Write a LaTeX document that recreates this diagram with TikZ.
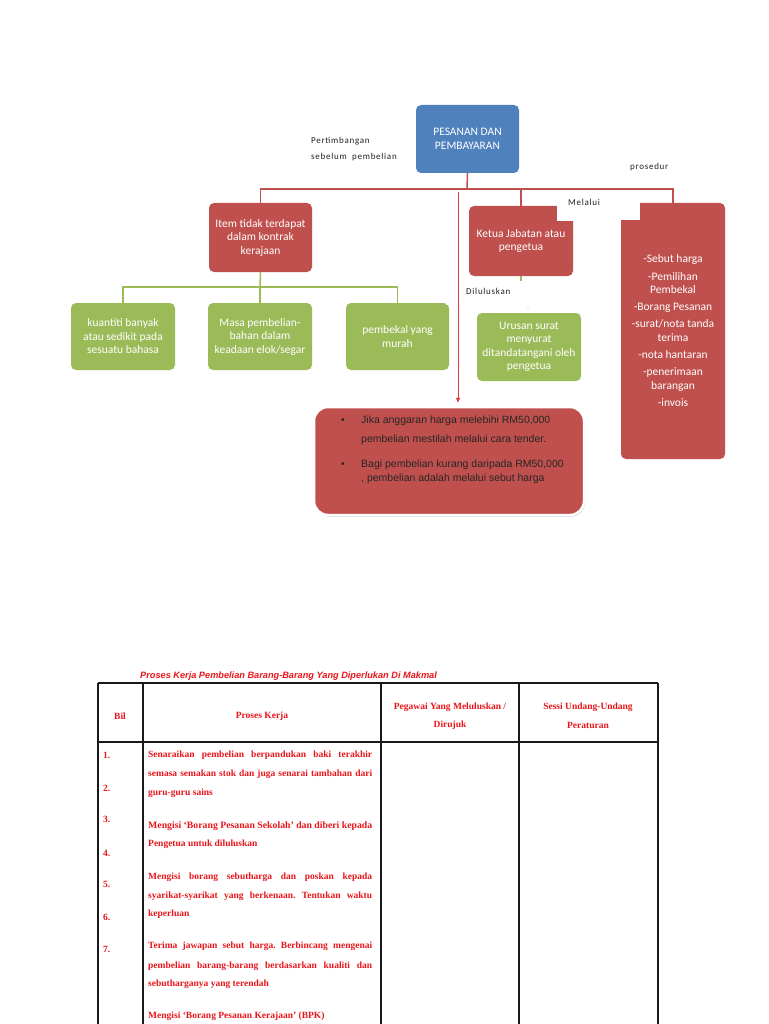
\documentclass[tikz,border=0pt]{standalone}
\usepackage{fontspec}
\setmainfont{Carlito}
\newfontfamily\arialf{Liberation Sans}
\newfontfamily\tnrf{Liberation Serif}
\newfontfamily\lblf[LetterSpace=8]{Carlito}
\usetikzlibrary{arrows.meta,shadows}
\definecolor{cblue}{HTML}{4F81BD}
\definecolor{cred}{HTML}{C0504D}
\definecolor{cgreen}{HTML}{9BBB59}
\definecolor{tred}{HTML}{E8151B}
\definecolor{arrred}{HTML}{E0393E}
\definecolor{lbl}{HTML}{222222}
\frenchspacing
\begin{document}
\begin{tikzpicture}[x=1pt,y=-1pt,
  box/.style={rectangle, rounded corners=5pt, inner sep=0pt, align=center, text=white,
    font=\fontsize{11.5}{13.5}\selectfont, minimum width=104pt, minimum height=68pt},
  bluebox/.style={box, fill=cblue},
  redbox/.style={box, fill=cred},
  greenbox/.style={box, fill=cgreen},
  redline/.style={draw=cred, line width=1.5pt},
  greenline/.style={draw=cgreen, line width=1.5pt},
  arrline/.style={draw=arrred, line width=0.9pt, -{Triangle[length=5pt,width=4pt]}},
  lbltext/.style={anchor=west, inner sep=0pt, text=lbl, font=\lblf\fontsize{9}{10}\selectfont},
  notetext/.style={anchor=west, inner sep=0pt, text=black!85, font=\arialf\fontsize{10.5}{12}\selectfont},
  tline/.style={draw=black!90, line width=1.2pt},
  thead/.style={inner sep=0pt, text=tred, font=\tnrf\bfseries\fontsize{9.5}{11}\selectfont},
  tbody/.style={anchor=west, inner sep=0pt, text=tred, font=\tnrf\bfseries\fontsize{9.5}{11}\selectfont},
]
\useasboundingbox (0,0) rectangle (768,1024);
\fill[white] (0,0) rectangle (768,1024);

% ---------- boxes ----------
\node[bluebox, minimum width=103pt] (blue) at (467.5,139) {PESANAN DAN\\PEMBAYARAN};
\node[redbox, minimum width=103pt, minimum height=69pt] (item) at (260.5,237.5) {Item tidak terdapat\\dalam kontrak\\kerajaan};
\node[greenbox, minimum height=67pt] (g1) at (123,336.5) {kuantiti banyak\\atau sedikit pada\\sesuatu bahasa};
\node[greenbox, minimum height=67pt] (g2) at (260,336.5) {Masa pembelian-\\bahan dalam\\keadaan elok/segar};
\node[greenbox, minimum width=103pt, minimum height=67pt] (g3) at (397.5,336.5) {pembekal yang\\murah};
\fill[white] (446,301.5) rectangle (450,305);
\node[redbox, minimum height=70pt] (ketua) at (521,241) {Ketua Jabatan atau\\pengetua};
\fill[white] (557,204) rectangle (575,221);
\node[greenbox] (urusan) at (529,347) {Urusan surat\\menyurat\\ditandatangani oleh\\pengetua};
\node[redbox, minimum height=256pt] (right) at (673,331) {-Sebut harga\\[4pt]-Pemilihan\\Pembekal\\[3.5pt]-Borang Pesanan\\[3.5pt]-surat/nota tanda\\terima\\[4pt]-nota hantaran\\[3.5pt]-penerimaan\\barangan\\[4pt]-invois};
\fill[white] (619,201) rectangle (640,220);

\node[rectangle, rounded corners=14pt, fill=cred, draw=white, line width=2.5pt,
  minimum width=270pt, minimum height=108pt,
  drop shadow={shadow xshift=1pt, shadow yshift=-1.5pt, opacity=0.45}] (tender) at (449,461) {};
\node[notetext] (b1) at (341,421) {\textbullet};
\node[notetext] (t1) at (361,421) {Jika anggaran harga melebihi RM50,000};
\node[notetext] (t2) at (361,440) {pembelian mestilah melalui cara tender.};
\node[notetext] (b2) at (341,465) {\textbullet};
\node[notetext] (t3) at (361,465) {Bagi pembelian kurang daripada RM50,000};
\node[notetext] (t4) at (361,479) {, pembelian adalah melalui sebut harga};

% ---------- labels ----------
\node[lbltext] (l1) at (311,141) {Pertimbangan};
\node[lbltext] (l2) at (311,157) {sebelum\ \ pembelian};
\node[lbltext] (l3) at (630,167) {prosedur};
\node[lbltext] (l4) at (568,202) {Melalui};
\node[lbltext] (l5) at (466,291) {Diluluskan};

% ---------- connectors ----------
\coordinate (hm) at (467,189);
\coordinate (hr) at (673,189);
\draw[redline] (blue.south) -- (hm);
\draw[redline] (item.north) |- (hr) -- (right.north);
\draw[redline] (ketua.north |- hm) -- (ketua.north);
\coordinate (arrtop) at (458,192);
\draw[arrline, shorten >=3pt] (arrtop) -- (tender.north -| arrtop);
\coordinate (gm) at (260,287);
\draw[greenline] (item.south) -- (gm);
\draw[greenline] (g1.north) -- (g1.north |- gm) -| (g3.north);
\draw[greenline] (g2.north) -- (g2.north |- gm);
\draw[greenline, line width=1.2pt] (ketua.south) -- ++(0,5);
\fill[gray!60] (528,307) circle (0.7);

% ---------- table ----------
\node[anchor=west, inner sep=0pt, text=tred, font=\arialf\bfseries\itshape\fontsize{9.2}{10}\selectfont] (title) at (140,676) {Proses Kerja Pembelian Barang-Barang Yang Diperlukan Di Makmal};
\draw[tline] (98,683) -- (658,683);
\draw[tline] (98,742) -- (658,742);
\foreach \cx in {98,143,381,519,658} { \draw[tline] (\cx,683) -- (\cx,1024); }
\node[thead] (h1) at (120,716) {Bil};
\node[thead] (h2) at (262,716) {Proses Kerja};
\node[thead] (h3a) at (450,707) {Pegawai Yang Meluluskan /};
\node[thead] (h3b) at (450,725) {Dirujuk};
\node[thead] (h4a) at (588,707) {Sessi Undang-Undang};
\node[thead] (h4b) at (588,725) {Peraturan};

\node[tbody] (n1) at (103,755) {1.};
\node[tbody] (n2) at (103,788) {2.};
\node[tbody] (n3) at (103,819) {3.};
\node[tbody] (n4) at (103,853) {4.};
\node[tbody] (n5) at (103,884) {5.};
\node[tbody] (n6) at (103,917) {6.};
\node[tbody] (n7) at (103,949) {7.};

\node[tbody] (r1) at (148,755) {\makebox[224pt][s]{Senaraikan pembelian berpandukan baki terakhir}};
\node[tbody] (r2) at (148,774) {\makebox[224pt][s]{semasa semakan stok dan juga senarai tambahan dari}};
\node[tbody] (r3) at (148,793) {guru-guru sains};
\node[tbody] (r4) at (148,826) {\resizebox{224pt}{!}{Mengisi ‘Borang Pesanan Sekolah’ dan diberi kepada}};
\node[tbody] (r5) at (148,844) {Pengetua untuk diluluskan};
\node[tbody] (r6) at (148,877) {\makebox[224pt][s]{Mengisi borang sebutharga dan poskan kepada}};
\node[tbody] (r7) at (148,896) {\makebox[224pt][s]{syarikat-syarikat yang berkenaan. Tentukan waktu}};
\node[tbody] (r8) at (148,914) {keperluan};
\node[tbody] (r9) at (148,946) {\makebox[224pt][s]{Terima jawapan sebut harga. Berbincang mengenai}};
\node[tbody] (r10) at (148,966) {\makebox[224pt][s]{pembelian barang-barang berdasarkan kualiti dan}};
\node[tbody] (r11) at (148,984) {sebutharganya yang terendah};
\node[tbody] (r12) at (148,1016) {Mengisi ‘Borang Pesanan Kerajaan’ (BPK)};
\end{tikzpicture}
\end{document}
